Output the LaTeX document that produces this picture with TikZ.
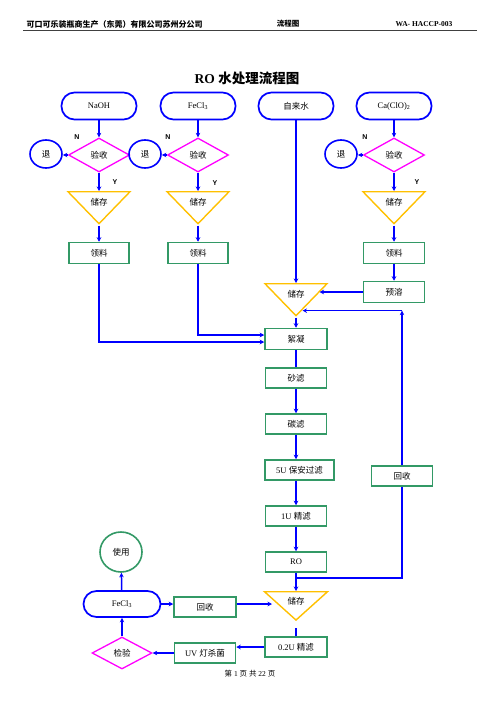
\documentclass[tikz,border=0pt]{standalone}
\usepackage{fontspec}
\setmainfont{Liberation Serif}
\newfontfamily\zhfont{Noto Sans CJK SC}
\newfontfamily\arialfont{Liberation Sans}
\usetikzlibrary{shapes.geometric,arrows.meta,calc}
\definecolor{flowblue}{RGB}{0,0,255}
\definecolor{flowgreen}{RGB}{51,153,102}
\definecolor{flowgold}{RGB}{255,192,0}
\definecolor{flowpink}{RGB}{255,0,255}

\begin{document}
\begin{tikzpicture}[x=1pt,y=-1pt,
    font=\fontsize{8.5}{10}\selectfont,
    pill/.style={draw=flowblue,line width=1.7pt,rounded corners=13pt,minimum width=75,minimum height=27,inner sep=0pt},
    inspect/.style={draw=flowpink,line width=1.3pt,diamond,minimum width=61,minimum height=34,inner sep=0pt},
    reject/.style={draw=flowblue,line width=1.6pt,ellipse,minimum width=32,minimum height=28,inner sep=0pt},
    store/.style={draw=flowgold,line width=1.4pt,isosceles triangle,isosceles triangle stretches,shape border rotate=270,minimum width=62,minimum height=32,inner sep=0pt,anchor=north},
    stepbox/.style={draw=flowgreen,line width=1.5pt,minimum width=61,minimum height=20,inner sep=0pt},
    flow/.style={flowblue,line width=1.5pt},
    go/.style={flow,-{Stealth[length=4.5pt,width=4.5pt]}},
    yn/.style={font=\arialfont\bfseries\fontsize{7}{8}\selectfont}]
        \useasboundingbox (0,0) rectangle (500,707);

        \node[anchor=west,font=\zhfont\bfseries\fontsize{8}{9}\selectfont] (corp) at (23,24) {可口可乐装瓶商生产（东莞）有限公司苏州分公司};
        \node[font=\zhfont\bfseries\fontsize{7.5}{9}\selectfont] (kind) at (288,24) {流程图};
        \node[anchor=east,font=\bfseries\fontsize{7.5}{9}\selectfont] (code) at (456,24) {WA- HACCP-003};
        \draw[black!75,line width=1pt] (23,30.5) -- (477,30.5);
        \node[font=\bfseries\fontsize{13.5}{16}\selectfont] (title) at (247,78) {RO {\zhfont 水处理流程图}};

        \node[pill] (naoh) at (99,106) {NaOH};
        \node[pill] (fecl) at (198,106) {FeCl\textsubscript{3}};
        \node[pill] (water) at (296,106) {\zhfont 自来水};
        \node[pill] (caclo) at (394,106) {Ca(ClO)\textsubscript{2}};

        \node[inspect] (chk1) at (99,155) {\zhfont 验收};
        \node[inspect] (chk2) at (198,155) {\zhfont 验收};
        \node[inspect] (chk4) at (394,155) {\zhfont 验收};
        \node[reject] (rej1) at (46,154) {\zhfont 退};
        \node[reject] (rej2) at (145,154) {\zhfont 退};
        \node[reject] (rej4) at (341,154) {\zhfont 退};
        \node[yn] (n1) at (77,137) {N};
        \node[yn] (n2) at (168,137) {N};
        \node[yn] (n4) at (365,137) {N};
        \node[yn] (y1) at (115,182) {Y};
        \node[yn] (y2) at (215,183) {Y};
        \node[yn] (y4) at (417,182) {Y};

        \node[store] (st1) at (99,191) {\zhfont 储存};
        \node[store] (st2) at (198,191) {\zhfont 储存};
        \node[store] (st4) at (394,191) {\zhfont 储存};
        \node[stepbox,minimum width=60,minimum height=21] (take1) at (99,253) {\zhfont 领料};
        \node[stepbox,minimum width=60,minimum height=21] (take2) at (198,253) {\zhfont 领料};
        \node[stepbox,minimum height=21] (take4) at (394,253) {\zhfont 领料};
        \node[stepbox,minimum height=21] (predis) at (394,292) {\zhfont 预溶};

        \node[store] (cst) at (296,283) {\zhfont 储存};
        \node[stepbox,minimum width=62,minimum height=21] (floc) at (296,339) {\zhfont 絮凝};
        \node[stepbox] (sand) at (296,378) {\zhfont 砂滤};
        \node[stepbox] (carbon) at (296,424) {\zhfont 碳滤};
        \node[stepbox,minimum width=69] (five) at (299.5,470) {5U {\zhfont 保安过滤}};
        \node[stepbox] (one) at (296,516) {1U {\zhfont 精滤}};
        \node[stepbox] (ro) at (296,562) {RO};
        \node[stepbox] (recycle) at (402,476) {\zhfont 回收};

        \node[store,minimum width=63,minimum height=26] (bst) at (296,591) {\zhfont 储存};
        \node[stepbox,minimum width=62] (fine) at (296,647) {0.2U {\zhfont 精滤}};
        \node[stepbox] (uv) at (205,653) {UV {\zhfont 灯杀菌}};
        \node[inspect,minimum width=60,minimum height=32] (test) at (122,653) {\zhfont 检验};
        \node[pill,minimum width=77,minimum height=26] (fe) at (122,604) {FeCl\textsubscript{3}};
        \node[draw=flowgreen,line width=1.6pt,ellipse,minimum width=42,minimum height=40,inner sep=0pt] (use) at (121,552) {\zhfont 使用};
        \node[stepbox,minimum width=62] (recov) at (205,607) {\zhfont 回收};
        \node[font=\fontsize{7.5}{9}\selectfont] (foot) at (250,674) {{\zhfont 第}\ 1\ {\zhfont 页}\ {\zhfont 共}\ 22\ {\zhfont 页}};

        \draw[go] (naoh) -- (chk1);
        \draw[go] (fecl) -- (chk2);
        \draw[go] (caclo) -- (chk4);
        \draw[go] (chk1.west) -- (chk1.west -| rej1.east);
        \draw[go] (chk2.west) -- (chk2.west -| rej2.east);
        \draw[go] (chk4.west) -- (chk4.west -| rej4.east);
        \draw[go] (chk1.south) -- (st1.north);
        \draw[go] (chk2.south) -- (st2.north);
        \draw[go] (chk4.south) -- (st4.north);
        \draw[go] (st1.apex) -- (take1.north);
        \draw[go] (st2.apex) -- (take2.north);
        \draw[go] (st4.apex) -- (take4.north);
        \draw[go] (take4) -- (predis);
        \draw[go] (take1.south) |- ($(floc.west)+(0,3)$);
        \draw[go] (take2.south) |- ($(floc.west)+(0,-4)$);

        \coordinate (inA) at ($(cst.apex)!0.72!(cst.left corner)$);
        \coordinate (inB) at ($(cst.apex)!0.2!(cst.left corner)$);
        \coordinate (turn) at (recycle.north |- inB);
        \draw[go] (water.south) -- (cst.north);
        \draw[go] (predis.west) -- (predis.west -| inA);
        \draw[go] (recycle.north) -- (turn);
        \draw[go] (turn) -- (inB);
        \draw[go] (cst.apex) -- (floc.north);
        \draw[flow] (floc) -- (sand);
        \draw[go] (sand) -- (carbon);
        \draw[go] (carbon) -- (carbon |- five.north);
        \draw[go] (carbon |- five.south) -- (one);
        \draw[go] (one) -- (ro);
        \draw[go] (ro.south) -- (bst.north);
        \draw[flow] ($(ro.south)+(0,5)$) -| (recycle.south);

        \coordinate (inC) at ($(bst.apex)!0.54!(bst.right corner)$);
        \draw[flow] (fine.north) -- ($(bst.apex)+(0,6)$);
        \draw[go] (fine.west) -- (fine.west -| uv.east);
        \draw[go] (uv.west) -- (test.east);
        \draw[go] (test) -- (fe);
        \draw[go] (fe) -- (use);
        \draw[go] (fe.east) -- (fe.east -| recov.west);
        \draw[go,shorten >=6pt] (fe.east -| recov.east) -- (fe.east -| inC);
      \end{tikzpicture}
\end{document}
